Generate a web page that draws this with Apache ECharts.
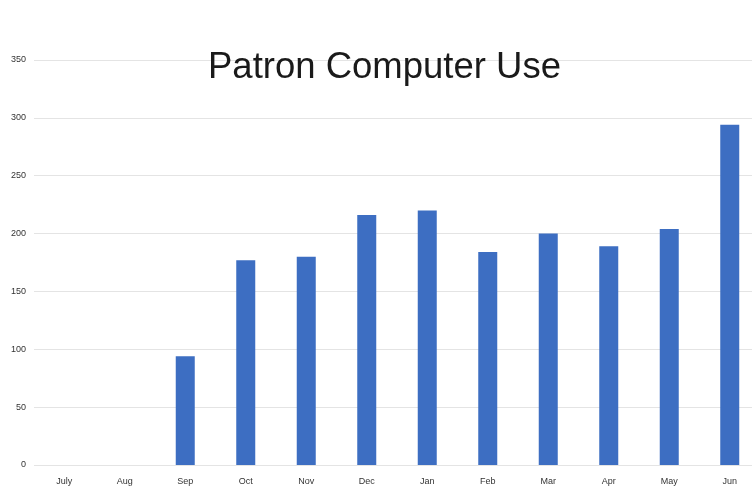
<!DOCTYPE html>
<html>
<head>
<meta charset="utf-8">
<script src="https://cdn.jsdelivr.net/npm/echarts@6/dist/echarts.min.js"></script>
<style>
  html, body { margin: 0; padding: 0; background: #ffffff; overflow: hidden; }
  /* canvas is slightly wider than the page so the last column is cut at the edge */
  #chart { width: 760px; height: 490px; }
</style>
</head>
<body>
<div id="chart"></div>
<script>
// Monthly patron computer sessions, fiscal year July–June
const months = ['July', 'Aug', 'Sep', 'Oct', 'Nov', 'Dec', 'Jan', 'Feb', 'Mar', 'Apr', 'May', 'Jun'];
const sessions = [0, 0, 94, 177, 180, 216, 220, 184, 200, 189, 204, 294];
const yTicks = { min: 0, max: 350, step: 50 };

const chart = echarts.init(document.getElementById('chart'), null, { renderer: 'canvas' });

chart.setOption({
  backgroundColor: '#ffffff',
  animation: false,
  title: {
    text: 'Patron Computer Use',
    left: 203,
    top: 44,
    textStyle: {
      fontFamily: 'Liberation Sans, Arial, sans-serif',
      fontSize: 36.5,
      fontWeight: 'normal',
      color: '#1a1a1a'
    }
  },
  grid: { left: 34, right: 0, top: 60, bottom: 25, containLabel: false },
  xAxis: {
    type: 'category',
    data: months,
    axisLine: { show: false },
    axisTick: { show: false },
    axisLabel: {
      fontFamily: 'Liberation Sans, Arial, sans-serif',
      fontSize: 9,
      color: '#333333',
      margin: 12
    }
  },
  yAxis: {
    type: 'value',
    min: yTicks.min,
    max: yTicks.max,
    interval: yTicks.step,
    axisLine: { show: false },
    axisTick: { show: false },
    axisLabel: {
      fontFamily: 'Liberation Sans, Arial, sans-serif',
      fontSize: 9,
      color: '#333333',
      margin: 8
    },
    splitLine: { lineStyle: { color: '#e4e4e4', width: 1 } }
  },
  series: [{
    type: 'bar',
    data: sessions,
    barWidth: 19,
    itemStyle: {
      color: '#3d6ec2'
    }
  }]
});
</script>
</body>
</html>
